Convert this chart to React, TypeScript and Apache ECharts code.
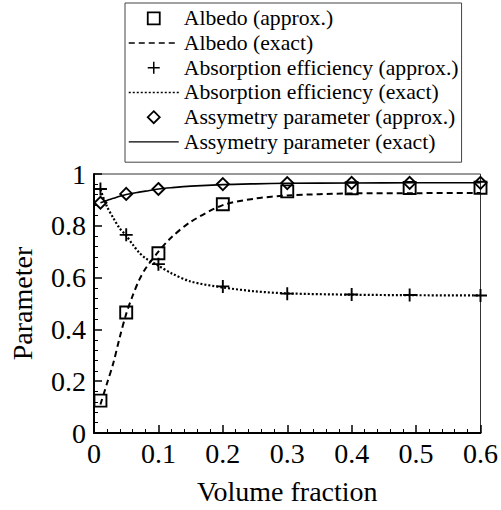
import React, { useEffect, useRef } from "react";
import * as echarts from "echarts";

// Sampled points of the approximate model
const xApprox = [0.01, 0.05, 0.1, 0.2, 0.3, 0.4, 0.49, 0.6];
const albedoApprox = [0.125, 0.465, 0.694, 0.883, 0.933, 0.945, 0.946, 0.947];
const absorptionApprox = [0.942, 0.765, 0.652, 0.566, 0.538, 0.535, 0.533, 0.531];
const asymmetryApprox = [0.889, 0.923, 0.942, 0.961, 0.965, 0.966, 0.966, 0.966];

// Exact solution curves
const xExact = [0.01, 0.02, 0.03, 0.04, 0.05, 0.06, 0.07, 0.08, 0.1, 0.12, 0.15, 0.2, 0.25, 0.3, 0.4, 0.5, 0.6];
const albedoExact = [0.11, 0.19, 0.27, 0.37, 0.46, 0.53, 0.59, 0.635, 0.7, 0.755, 0.815, 0.88, 0.905, 0.917, 0.925, 0.926, 0.927];
const absorptionExact = [0.94, 0.875, 0.83, 0.79, 0.762, 0.728, 0.697, 0.675, 0.646, 0.617, 0.585, 0.562, 0.547, 0.539, 0.534, 0.532, 0.531];
const asymmetryExact = [0.889, 0.898, 0.906, 0.914, 0.921, 0.926, 0.93, 0.934, 0.942, 0.947, 0.953, 0.959, 0.962, 0.964, 0.965, 0.966, 0.966];

const seriesNames = [
  "Albedo (approx.)",
  "Albedo (exact)",
  "Absorption efficiency (approx.)",
  "Absorption efficiency (exact)",
  "Assymetry parameter (approx.)",
  "Assymetry parameter (exact)",
];

const xTicks = { min: 0, max: 0.6, interval: 0.1 };
const yTicks = { min: 0, max: 1, interval: 0.2 };

const serif = "Liberation Serif";
const plusPath = "path://M6,0L6,12M0,6L12,6";

const pairs = (xs: number[], ys: number[]) => xs.map((x, i) => [x, ys[i]]);

export default function App() {
  const ref = useRef<HTMLDivElement>(null);

  useEffect(() => {
    const chart = echarts.init(ref.current!, null, { renderer: "svg" });

    // markers only: a line series whose connecting line is hidden
    const markerSeries = (name: string, ys: number[], symbol: string, size: number) => ({
      name,
      type: "line",
      data: pairs(xApprox, ys),
      symbol,
      symbolSize: size,
      showSymbol: true,
      clip: false,
      z: 5,
      lineStyle: { width: 0, opacity: 0 },
      itemStyle: { color: "transparent", borderColor: "#000", borderWidth: 1.9 },
      emphasis: { disabled: true },
    });

    const curveSeries = (name: string, ys: number[], type: any, width: number) => ({
      name,
      type: "line",
      data: pairs(xExact, ys),
      smooth: 0.3,
      symbol: "none",
      clip: false,
      z: 3,
      color: "#000",
      lineStyle: { color: "#000", width, type },
      emphasis: { disabled: true },
    });

    const axisText = { fontSize: 28, fontFamily: serif, color: "#000" };

    chart.setOption({
      animation: false,
      backgroundColor: "#fff",
      grid: {
        left: 88,
        right: 18,
        top: 174,
        bottom: 72,
        show: true,
        borderColor: "#333",
        borderWidth: 1,
      },
      legend: {
        orient: "vertical",
        left: 125,
        top: 3,
        padding: [3, 3, 8, 3],
        itemWidth: 50,
        itemHeight: 15,
        itemGap: 0,
        selectedMode: false,
        borderColor: "#444",
        borderWidth: 1,
        backgroundColor: "#fff",
        textStyle: { fontSize: 21.7, fontFamily: serif, color: "#000", lineHeight: 24.7 },
        data: [
          { name: seriesNames[0], lineStyle: { opacity: 0 }, itemStyle: { borderWidth: 1.8 } },
          { name: seriesNames[1], itemStyle: { opacity: 0 }, lineStyle: { width: 1.5 } },
          { name: seriesNames[2], lineStyle: { opacity: 0 }, itemStyle: { borderWidth: 1.5 } },
          { name: seriesNames[3], itemStyle: { opacity: 0 }, lineStyle: { width: 1.5 } },
          { name: seriesNames[4], lineStyle: { opacity: 0 }, itemStyle: { borderWidth: 1.8 } },
          { name: seriesNames[5], itemStyle: { opacity: 0 }, lineStyle: { width: 1.3 } },
        ],
      },
      xAxis: {
        type: "value",
        ...xTicks,
        name: "Volume fraction",
        nameLocation: "middle",
        nameGap: 44,
        nameTextStyle: axisText,
        axisLine: { lineStyle: { color: "#000", width: 2 } },
        axisTick: { inside: true, length: 8, lineStyle: { color: "#000", width: 1.5 } },
        minorTick: { show: true, splitNumber: 5, length: 4, lineStyle: { color: "#000", width: 1 } },
        splitLine: { show: false },
        axisLabel: { ...axisText, margin: 6 },
      },
      yAxis: {
        type: "value",
        ...yTicks,
        name: "Parameter",
        nameLocation: "middle",
        nameGap: 58,
        nameTextStyle: axisText,
        axisLine: { show: true, lineStyle: { color: "#000", width: 2 } },
        axisTick: { show: true, inside: true, length: 8, lineStyle: { color: "#000", width: 1.5 } },
        minorTick: { show: true, splitNumber: 5, length: 4, lineStyle: { color: "#000", width: 1 } },
        splitLine: { show: false },
        axisLabel: { ...axisText, margin: 8 },
      },
      series: [
        markerSeries(seriesNames[0], albedoApprox, "rect", 12),
        curveSeries(seriesNames[1], albedoExact, [6, 4], 2),
        markerSeries(seriesNames[2], absorptionApprox, plusPath, 13),
        curveSeries(seriesNames[3], absorptionExact, [2, 2], 2.2),
        markerSeries(seriesNames[4], asymmetryApprox, "diamond", 12),
        curveSeries(seriesNames[5], asymmetryExact, "solid", 1.6),
      ],
    });

    return () => chart.dispose();
  }, []);

  return (
    <div
      ref={ref}
      style={{ position: "fixed", left: 0, top: 0, width: 501, height: 510, background: "#fff" }}
    />
  );
}
